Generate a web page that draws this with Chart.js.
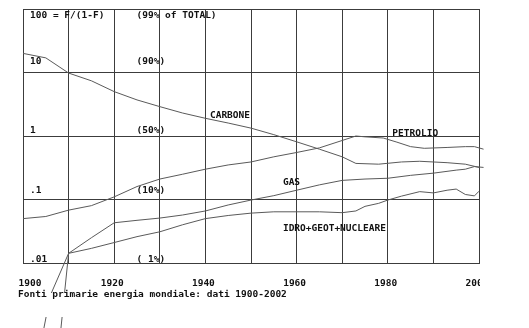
<!DOCTYPE html>
<html>
<head>
<meta charset="utf-8">
<script src="https://cdn.jsdelivr.net/npm/chart.js@4/dist/chart.umd.min.js"></script>
<style>
  html, body { margin: 0; padding: 0; background: #fff; }
  #c { display: block; }
</style>
</head>
<body>
<canvas id="c" width="529" height="328"></canvas>
<script>
// World primary energy shares, plotted as F/(1-F) on a log scale
const coalYears  = [1900,1905,1910,1915,1920,1925,1930,1935,1940,1945,1950,1955,1960,1965,1970,1973,1978,1983,1987,1993,1997,2000,2001];
const coalValues = [20,17,9.8,7.4,5.0,3.7,2.9,2.3,1.9,1.6,1.33,1.05,0.81,0.62,0.47,0.37,0.36,0.39,0.40,0.38,0.36,0.32,0.31];

const oilYears  = [1900,1905,1910,1915,1920,1925,1930,1935,1940,1945,1950,1955,1960,1965,1970,1973,1975,1979,1982,1985,1988,1993,1997,1999,2001];
const oilValues = [0.050,0.054,0.068,0.080,0.11,0.16,0.21,0.25,0.30,0.35,0.39,0.47,0.55,0.65,0.85,1.0,0.97,0.93,0.80,0.68,0.64,0.66,0.68,0.68,0.62];

const gasYears  = [1900,1906,1910,1915,1920,1925,1930,1935,1940,1945,1950,1955,1960,1965,1970,1975,1980,1985,1990,1995,1997,1999,2001];
const gasValues = [0.00002,0.0031,0.0142,0.025,0.043,0.047,0.051,0.057,0.066,0.082,0.098,0.115,0.14,0.17,0.20,0.21,0.216,0.24,0.26,0.29,0.30,0.33,0.32];

const hydroYears  = [1908,1910,1915,1920,1925,1930,1935,1940,1945,1950,1955,1960,1965,1970,1973,1975,1978,1980,1983,1987,1990,1993,1995,1997,1999,2000,2001];
const hydroValues = [0.00056,0.0142,0.017,0.021,0.026,0.031,0.040,0.050,0.056,0.061,0.064,0.064,0.064,0.062,0.066,0.078,0.087,0.098,0.113,0.133,0.127,0.14,0.146,0.12,0.114,0.135,0.15];

const seriesNames = ['CARBONE', 'PETROLIO', 'GAS', 'IDRO+GEOT+NUCLEARE'];

const yTickValues  = [100, 10, 1, 0.1, 0.01];
const yTickLabels  = ['100 = F/(1-F)', '10', '1', '.1', '.01'];
const pctLabels    = ['(99% of TOTAL)', '(90%)', '(50%)', '(10%)', '( 1%)'];
const xLabelYears  = [1900, 1920, 1940, 1960, 1980, 2000];
const subtitle     = 'Fonti primarie energia mondiale: dati 1900-2002';

const FONT = 'bold 9.5px "DejaVu Sans Mono", "Liberation Mono", monospace';
const LINE = '#5a5a5a';
const GRID = '#3c3c3c';

function toPoints(xs, ys) { return xs.map((x, i) => ({ x: x, y: ys[i] })); }

function lineSet(label, xs, ys) {
  return {
    label: label,
    data: toPoints(xs, ys),
    borderColor: LINE,
    borderWidth: 1,
    pointRadius: 0,
    tension: 0,
    fill: false,
    clip: false
  };
}

const textPlugin = {
  id: 'textLayer',
  beforeDraw(chart) {
    const ctx = chart.ctx;
    ctx.save();
    ctx.fillStyle = '#fff';
    ctx.fillRect(0, 0, chart.width, chart.height);
    ctx.restore();
  },
  afterDatasetsDraw(chart) {
    // band behind the caption row
    const ctx = chart.ctx;
    ctx.save();
    ctx.fillStyle = '#fff';
    ctx.fillRect(0, 293, 320, 24);
    ctx.restore();
  },
  afterDraw(chart) {
    const ctx = chart.ctx;
    const xs = chart.scales.x, ys = chart.scales.y;
    const area = chart.chartArea;
    ctx.save();
    ctx.font = FONT;
    ctx.fillStyle = '#111';
    ctx.textBaseline = 'middle';
    ctx.textAlign = 'left';

    // decade labels and their share equivalents, inside the plot
    const rowShift = [6.7, -11, -5, -8.5, -3];
    yTickValues.forEach((v, i) => {
      const y = ys.getPixelForValue(v) + rowShift[i];
      ctx.fillText(yTickLabels[i], area.left + 7, y);
      ctx.fillText(pctLabels[i], xs.getPixelForValue(1925) - 0.5, y);
    });

    // series names
    ctx.fillText(seriesNames[0], xs.getPixelForValue(1941), ys.getPixelForValue(2.1));
    ctx.fillText(seriesNames[1], xs.getPixelForValue(1981), ys.getPixelForValue(1.08));
    ctx.fillText(seriesNames[2], xs.getPixelForValue(1957), ys.getPixelForValue(0.186));
    ctx.fillText(seriesNames[3], xs.getPixelForValue(1957), ys.getPixelForValue(0.035));

    // year labels under the plot, cut at the right frame
    ctx.save();
    ctx.beginPath();
    ctx.rect(0, area.bottom + 1, area.right + 1, 40);
    ctx.clip();
    ctx.textAlign = 'center';
    xLabelYears.forEach((yr, i) => {
      const shift = i === 0 ? 7 : -2;
      ctx.fillText(String(yr), xs.getPixelForValue(yr) + shift, 283.5);
    });
    ctx.restore();

    ctx.textAlign = 'left';
    ctx.fillText(subtitle, 18, 294.5);
    ctx.restore();
  }
};

new Chart(document.getElementById('c'), {
  type: 'line',
  data: {
    datasets: [
      lineSet(seriesNames[0], coalYears, coalValues),
      lineSet(seriesNames[1], oilYears, oilValues),
      lineSet(seriesNames[2], gasYears, gasValues),
      lineSet(seriesNames[3], hydroYears, hydroValues)
    ]
  },
  options: {
    responsive: false,
    animation: false,
    events: [],
    layout: { padding: { left: 23, top: 9, right: 50, bottom: 65 } },
    plugins: { legend: { display: false }, tooltip: { enabled: false } },
    scales: {
      x: {
        type: 'linear',
        min: 1900,
        max: 2000,
        ticks: { display: false, stepSize: 10 },
        grid: { color: GRID, lineWidth: 1, drawTicks: false },
        border: { color: GRID, width: 1 }
      },
      y: {
        type: 'logarithmic',
        min: 0.01,
        max: 100,
        afterBuildTicks(scale) {
          scale.ticks = yTickValues.slice().reverse().map(v => ({ value: v }));
        },
        ticks: { display: false },
        grid: { color: GRID, lineWidth: 1, drawTicks: false },
        border: { color: GRID, width: 1 }
      }
    }
  },
  plugins: [textPlugin]
});
</script>
</body>
</html>
